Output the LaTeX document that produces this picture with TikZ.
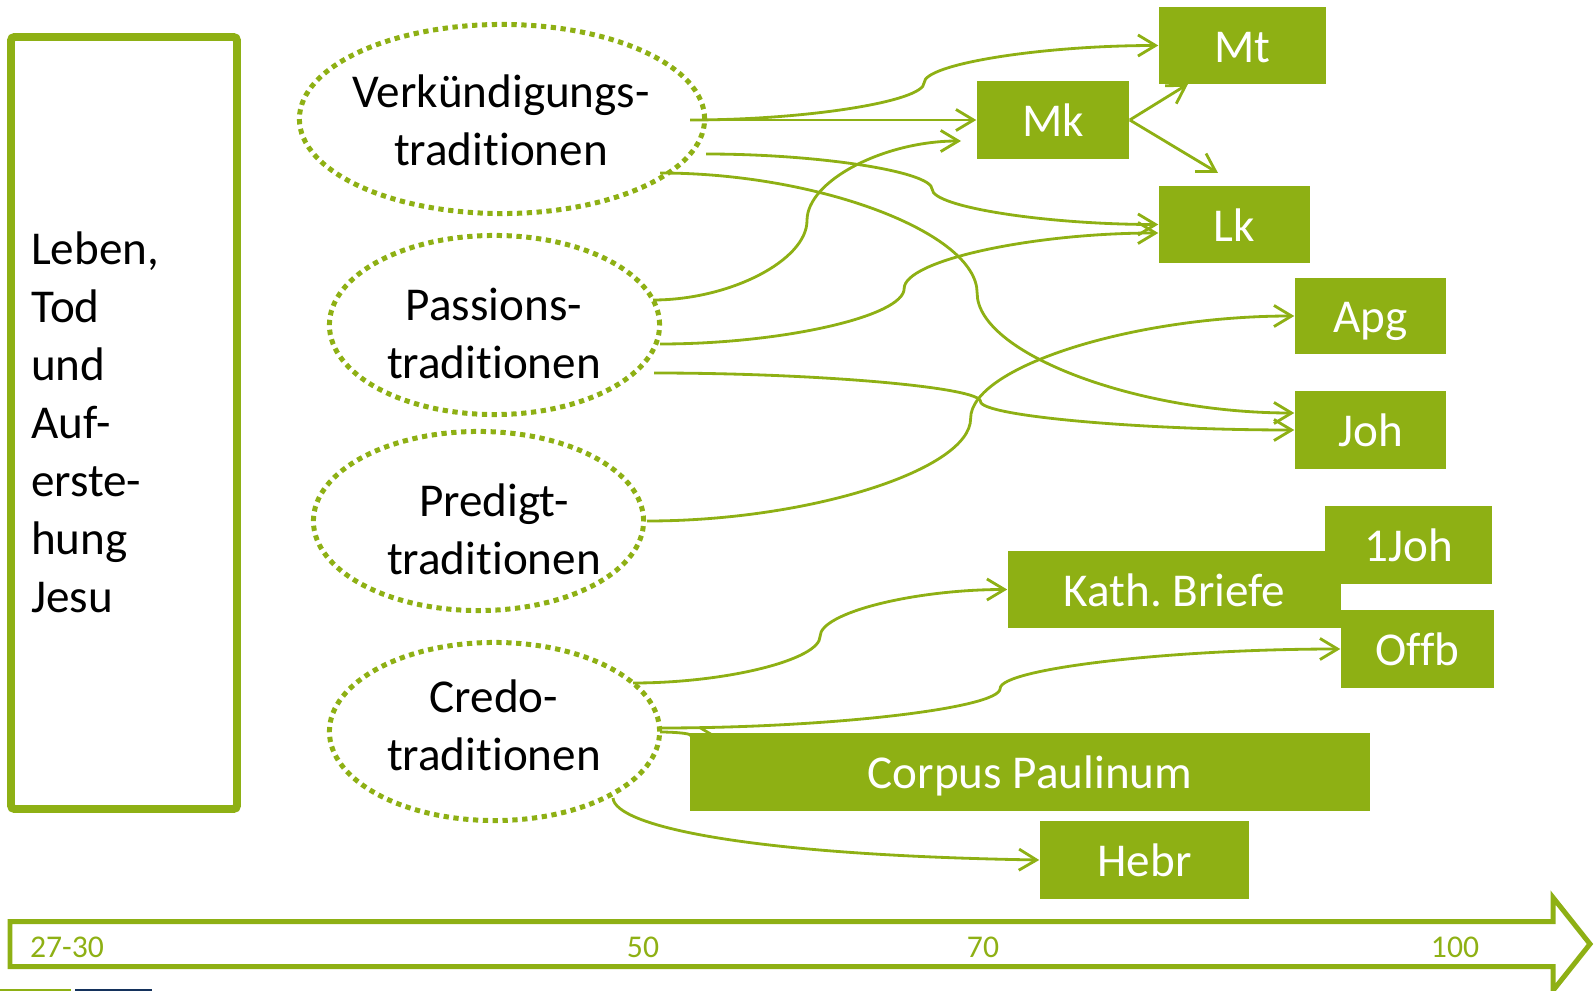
\documentclass[tikz,border=0pt]{standalone}
\usepackage{fontspec}
\setmainfont{Carlito}[RawFeature={-liga}]
\usetikzlibrary{arrows.meta,shapes.geometric,calc}
\definecolor{grn}{RGB}{142,176,20}
\definecolor{navy}{RGB}{20,50,92}
\pgfdeclarelayer{bg}
\pgfsetlayers{bg,main}
\frenchspacing
\newcommand\myfont{\fontsize{13.4}{16.5}\selectfont}
\newcommand\tlfont{\fontsize{9}{11}\selectfont}
% curved connector (PowerPoint style): #2 start, #3 end, #4 fraction for bend x
\newcommand\ccon[4][]{%
  \draw[conn,#1] let \p1=(#2), \p2=(#3), \n1={\x1+#4*(\x2-\x1)}, \n2={(\y1+\y2)/2} in
   (\p1) .. controls ({(\x1+\n1*1pt)/2},\y1) and ({\n1*1pt},{(3*\y1+\y2)/4}) .. ({\n1*1pt},{\n2*1pt})
         .. controls ({\n1*1pt},{(\y1+3*\y2)/4}) and ({(\n1*1pt+\x2)/2},\y2) .. (\p2);}
\begin{document}
\begin{tikzpicture}[x=0.01cm,y=-0.01cm,
  gbox/.style={fill=grn, text=white, inner sep=0pt, font=\myfont, text height=9.4pt, text depth=0pt},
  dotell/.style={draw=grn, ellipse, line width=1.42pt, dash pattern=on 1.5pt off 1.3pt, inner sep=0pt},
  conn/.style={draw=grn, line width=0.8pt, -{Straight Barb[length=5pt,width=6pt]}},
  lbl/.style={font=\myfont, text=black, align=center, inner sep=0pt},
  tl/.style={font=\tlfont, text=grn, anchor=base, inner sep=0pt}]
\useasboundingbox (0,0) rectangle (1594,991);
\clip (0,0) rectangle (1594,991);

% left box
\draw[grn, line width=2.27pt, rounded corners=1pt] (11,37) rectangle (237,809);
\node[font=\myfont, align=left, anchor=north west, inner sep=0pt] (life) at (30.5,231)
  {Leben,\\Tod\\und\\Auf-\\erste-\\hung\\Jesu};

% ellipses
\node[dotell, minimum width=4.05cm, minimum height=1.89cm] (verk) at (502,119) {};
\node[dotell, minimum width=3.30cm, minimum height=1.79cm] (pass) at (494.5,325) {};
\node[dotell, minimum width=3.30cm, minimum height=1.79cm] (pred) at (478.5,521) {};
\node[dotell, minimum width=3.30cm, minimum height=1.78cm] (cred) at (494.5,731.5) {};
\node[lbl] (verkt) at (501,120) {Verkündigungs-\\traditionen};
\node[lbl] (passt) at (494,333) {Passions-\\traditionen};
\node[lbl] (predt) at (494,529.5) {Predigt-\\traditionen};
\node[lbl] (credt) at (494,725.5) {Credo-\\traditionen};

% boxes
\node[gbox, minimum width=1.67cm, minimum height=0.77cm] (mt) at (1242.5,45.5) {Mt};
\node[gbox, minimum width=1.52cm, minimum height=0.78cm] (mk) at (1053,120) {Mk};
\node[gbox, minimum width=1.51cm, minimum height=0.77cm] (lk) at (1234.5,224.5) {Lk};
\node[gbox, minimum width=1.51cm, minimum height=0.76cm] (apg) at (1370.5,316) {Apg};
\node[gbox, minimum width=1.51cm, minimum height=0.78cm] (joh) at (1370.5,430) {Joh};
\node[gbox, minimum width=1.67cm, minimum height=0.78cm] (ejoh) at (1408.5,545) {1Joh};
\node[gbox, minimum width=3.33cm, minimum height=0.77cm] (kath) at (1174.5,589.5) {Kath. Briefe};
\node[gbox, minimum width=1.53cm, minimum height=0.78cm] (offb) at (1417.5,649) {Offb};
\node[gbox, minimum width=6.80cm, minimum height=0.78cm] (corp) at (1030,772) {Corpus Paulinum};
\node[gbox, minimum width=2.09cm, minimum height=0.78cm] (hebr) at (1144.5,860) {Hebr};

% connector start / free end points
\coordinate (v1) at (690,120);
\coordinate (v2) at (706,154);
\coordinate (v3) at (660,173);
\coordinate (p1) at (653,300);
\coordinate (p2) at (660,344);
\coordinate (p3) at (654,373);
\coordinate (r1) at (647,521);
\coordinate (c1) at (633,683);
\coordinate (c2) at (660,728);
\coordinate (c3) at (660,732);
\coordinate (c4) at (613,798);
\coordinate (pmk) at (961,141);
\coordinate (cpe) at (720,738);
\coordinate (mkt) at (1188,84);
\coordinate (mkl) at (1218,173);

\begin{pgfonlayer}{bg}
\draw[conn] (v1) -- (mk.west);
\ccon{v1}{mt.west}{0.5}
\ccon{v2}{lk.west}{0.5}
\ccon{v3}{$(joh.west)+(0,-17)$}{0.5}
\ccon{p1}{pmk}{0.5}
\ccon{p2}{$(lk.west)+(0,8.5)$}{0.49}
\ccon{p3}{joh.west}{0.51}
\ccon{r1}{apg.west}{0.5}
\ccon{c1}{kath.west}{0.5}
\ccon{c2}{offb.west}{0.5}
\ccon{c3}{cpe}{0.5}
\draw[conn] (c4) .. controls ($(c4)+(2,27)$) and ($(hebr.west)+(-300,-5)$) .. (hebr.west);
\draw[conn] (mk.east) -- (mkt);
\draw[conn] (mk.east) -- (mkl);
\end{pgfonlayer}

% timeline
\draw[grn, line width=1.42pt, miter limit=10] (10,921.5) -- (1553,921.5) -- (1553,897.5) -- (1590,944)
  -- (1553,990.5) -- (1553,966.5) -- (10,966.5) -- cycle;
\node[tl] (y1) at (67,957) {27-30};
\node[tl] (y2) at (643,957) {50};
\node[tl] (y3) at (983,957) {70};
\node[tl] (y4) at (1455,957) {100};

% footer bars
\fill[grn] (0,989) rectangle (71,991);
\fill[navy] (75,989) rectangle (152,991);
\end{tikzpicture}
\end{document}
